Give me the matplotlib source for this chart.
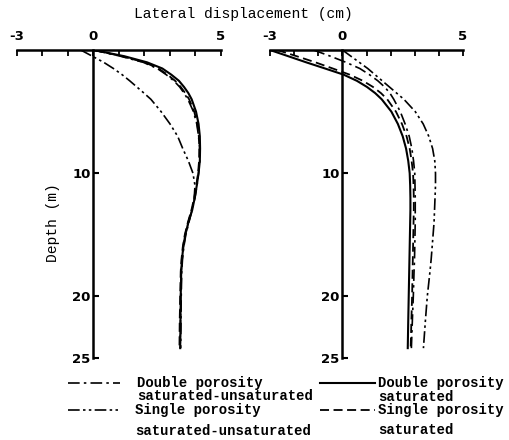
import matplotlib
matplotlib.use('Agg')
import matplotlib.pyplot as plt
from matplotlib.lines import Line2D

# depth (m) at which the curves were read
depth = [0, 0.5, 1, 1.5, 2, 2.5, 3, 3.5, 4, 5, 6, 7, 8, 9, 10, 11, 12, 13, 14, 15, 16, 17, 18, 20, 22, 24.2]

# left panel, lateral displacement (cm)
left_double_sat = [0, 1.2, 2.1, 2.7, 3.05, 3.35, 3.55, 3.72, 3.85, 4.02, 4.12, 4.17, 4.18, 4.17, 4.12,
                   4.05, 3.97, 3.87, 3.72, 3.6, 3.52, 3.47, 3.44, 3.42, 3.41, 3.4]
left_single_sat = [0, 1.1, 2.0, 2.55, 2.9, 3.2, 3.42, 3.6, 3.75, 3.95, 4.07, 4.13, 4.15, 4.14, 4.1,
                   4.03, 3.95, 3.84, 3.7, 3.58, 3.5, 3.45, 3.42, 3.4, 3.38, 3.37]
left_double_unsat = [0, 1.05, 1.95, 2.5, 2.85, 3.15, 3.38, 3.55, 3.7, 3.92, 4.05, 4.12, 4.16, 4.17, 4.12,
                     4.06, 3.98, 3.86, 3.74, 3.62, 3.54, 3.49, 3.46, 3.44, 3.43, 3.42]
left_single_unsat = [-0.5, -0.05, 0.4, 0.78, 1.12, 1.42, 1.7, 1.98, 2.25, 2.65, 3.0, 3.3, 3.5, 3.72, 3.9,
                     3.98, 3.95, 3.85, 3.72, 3.6, 3.52, 3.47, 3.44, 3.42, 3.41, 3.4]

# right panel
right_double_sat = [-3.0, -2.25, -1.5, -0.72, 0.05, 0.6, 1.02, 1.36, 1.63, 2.03, 2.3, 2.5, 2.64, 2.73, 2.79,
                    2.81, 2.82, 2.82, 2.81, 2.8, 2.79, 2.78, 2.77, 2.75, 2.73, 2.71]
right_single_sat = [-2.7, -1.9, -1.12, -0.4, 0.3, 0.85, 1.27, 1.6, 1.86, 2.22, 2.47, 2.66, 2.79, 2.87, 2.93,
                    2.95, 2.96, 2.96, 2.95, 2.94, 2.93, 2.92, 2.91, 2.89, 2.86, 2.83]
right_double_unsat = [-1.2, -0.5, 0.15, 0.72, 1.12, 1.47, 1.75, 1.97, 2.13, 2.4, 2.6, 2.77, 2.88, 2.95, 3.0,
                      3.01, 3.02, 3.02, 3.02, 3.01, 3.0, 2.99, 2.97, 2.94, 2.9, 2.86]
right_single_unsat = [0, 0.35, 0.7, 1.05, 1.35, 1.65, 1.95, 2.25, 2.55, 3.02, 3.35, 3.58, 3.74, 3.83, 3.86,
                      3.86, 3.84, 3.82, 3.8, 3.76, 3.72, 3.68, 3.63, 3.52, 3.44, 3.36]

x_labels = ['-3', '0', '5']
y_ticks = [10, 20, 25]

# line styles
dashdotdot = (0, (7, 2, 1.5, 2, 1.5, 2))
styles = {
    'double_unsat': dict(color='black', lw=1.2, linestyle=(0, (7, 2.5, 1.5, 2.5))),
    'single_unsat': dict(color='black', lw=1.2, linestyle=dashdotdot),
    'double_sat': dict(color='black', lw=1.5, linestyle='-'),
    'single_sat': dict(color='black', lw=1.3, linestyle=(0, (5, 2.5))),
}

plt.rcParams['font.family'] = 'Liberation Mono'

fig = plt.figure(figsize=(5.1, 4.4), dpi=100)
W, H = 510, 440


def make_axes(x_left, x_right, y_top, y_bot):
    return fig.add_axes([x_left / W, 1 - y_bot / H, (x_right - x_left) / W, (y_bot - y_top) / H])


ax1 = make_axes(17, 221, 50, 358)
ax2 = make_axes(270, 463, 50, 358)

panels = [
    (ax1, left_double_unsat, left_single_unsat, left_double_sat, left_single_sat),
    (ax2, right_double_unsat, right_single_unsat, right_double_sat, right_single_sat),
]

for ax, du, su, ds, ss in panels:
    ax.plot(du, depth, **styles['double_unsat'])
    ax.plot(su, depth, **styles['single_unsat'])
    ax.plot(ds, depth, **styles['double_sat'])
    ax.plot(ss, depth, **styles['single_sat'])

    ax.set_xlim(-3, 5)
    ax.set_ylim(25, 0)

    for s in ['right', 'bottom']:
        ax.spines[s].set_visible(False)
    ax.spines['top'].set_linewidth(1.8)
    ax.spines['left'].set_position(('data', 0))
    ax.spines['left'].set_linewidth(1.8)

    ax.xaxis.tick_top()
    ax.set_xticks([-3, 0, 5])
    ax.set_xticklabels(x_labels)
    ax.set_xticks(range(-3, 6), minor=True)
    ax.tick_params(axis='x', which='both', direction='in', length=4, width=1.3, pad=5,
                   labelsize=9.5, labelfontfamily='DejaVu Sans')
    ax.set_yticks(y_ticks)
    ax.set_yticklabels([str(t) for t in y_ticks])
    ax.tick_params(axis='y', direction='in', length=4, width=1.5, pad=2,
                   labelsize=9.5, labelfontfamily='DejaVu Sans')
    for lab in ax.get_xticklabels() + ax.get_yticklabels():
        lab.set_fontweight('bold')
    ax.patch.set_visible(False)

fig.text(243 / W, 1 - 14 / H, 'Lateral displacement (cm)', ha='center', va='center', fontsize=10.5)
fig.text(53 / W, 1 - 223 / H, 'Depth (m)', ha='center', va='center', rotation=90, fontsize=10.5)

# legend drawn by hand (two columns): style, texts, line x0, x1, text x, first y, second y
legend_rows = [
    ('double_unsat', ['Double porosity', 'saturated-unsaturated'], 68, 120, 137, 383, 396),
    ('single_unsat', ['Single porosity', 'saturated-unsaturated'], 68, 120, 135, 410, 431),
    ('double_sat', ['Double porosity', 'saturated'], 320, 375, 378, 383, 397),
    ('single_sat', ['Single porosity', 'saturated'], 320, 375, 378, 410, 430),
]
for key, texts, x0, x1, tx, ty, ty2 in legend_rows:
    fig.add_artist(Line2D([x0 / W, x1 / W], [1 - ty / H, 1 - ty / H], transform=fig.transFigure,
                          **styles[key]))
    fig.text(tx / W, 1 - ty / H, texts[0], ha='left', va='center', fontsize=10, fontweight='bold')
    fig.text(tx / W, 1 - ty2 / H, texts[1], ha='left', va='center', fontsize=10, fontweight='bold')

fig.savefig('out.png', dpi=100)
